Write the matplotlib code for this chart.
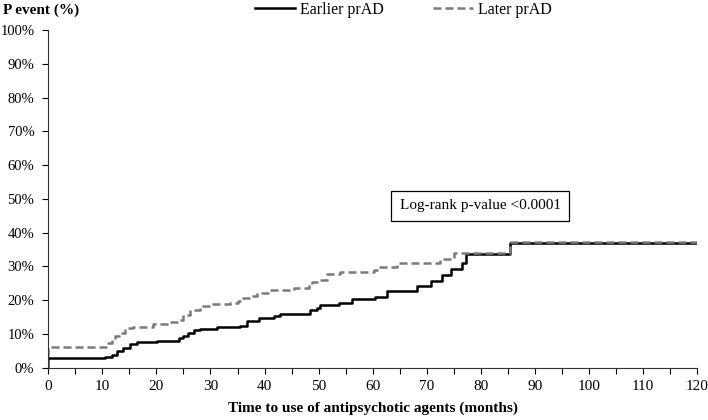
import matplotlib
matplotlib.use("Agg")
import matplotlib.pyplot as plt
from matplotlib.ticker import MultipleLocator, FuncFormatter

plt.rcParams['font.family'] = ['Liberation Serif', 'DejaVu Serif']

# Kaplan-Meier style cumulative event curves (months, % with event)
earlier_t = [0, 0, 10.5, 11.7, 12.7, 13.9, 15.1, 16.4, 20.1, 23.1, 24.1, 25.0, 25.9,
             26.9, 28.1, 31.2, 35.5, 36.7, 38.9, 41.7, 42.9, 48.5, 49.7, 50.3, 53.7,
             56.2, 60.5, 62.7, 68.2, 70.7, 72.9, 74.4, 76.6, 77.2, 85.4, 120]
earlier_v = [0, 2.8, 3.2, 3.8, 5.0, 5.7, 7.0, 7.7, 7.9, 8.0, 8.7, 9.5, 10.4,
             11.2, 11.5, 12.2, 12.4, 13.9, 14.6, 15.3, 15.8, 17.1, 17.6, 18.6, 19.1,
             20.3, 21.0, 22.8, 24.3, 25.8, 27.5, 29.2, 30.9, 33.7, 36.9, 36.9]

later_t = [0, 0, 10.8, 11.7, 12.4, 13.0, 14.2, 15.7, 19.4, 22.5, 24.1, 25.0, 26.2,
           28.1, 29.9, 33.6, 35.0, 36.1, 37.3, 38.6, 41.1, 45.4, 48.2, 48.8, 50.3,
           51.6, 54.0, 60.2, 61.4, 64.5, 72.5, 75.0, 85.4, 120]
later_v = [0, 6.2, 7.2, 8.5, 9.5, 10.2, 11.7, 12.2, 12.9, 13.4, 14.1, 15.5, 17.1,
           18.3, 18.9, 19.1, 19.8, 20.6, 21.3, 22.0, 23.0, 23.5, 24.2, 25.5, 26.0,
           27.8, 28.4, 29.0, 29.9, 30.9, 32.1, 33.9, 37.3, 37.3]

series_labels = ['Earlier prAD', 'Later prAD']
pvalue_text = 'Log-rank p-value <0.0001'

fig = plt.figure(figsize=(7.08, 4.2), dpi=100)
ax = fig.add_axes([0.0682, 0.1245, 0.9163, 0.8041])

l1, = ax.plot(earlier_t, earlier_v, drawstyle='steps-post', color='black', lw=1.8)
l2, = ax.plot(later_t, later_v, drawstyle='steps-post', color='#7a7a7a', lw=1.8,
              dashes=(3.2, 1.6))

ax.set_xlim(0, 120)
ax.set_ylim(0, 100)
ax.xaxis.set_major_locator(MultipleLocator(10))
ax.xaxis.set_minor_locator(MultipleLocator(5))
ax.yaxis.set_major_locator(MultipleLocator(10))
ax.yaxis.set_major_formatter(FuncFormatter(lambda v, p: '%d%%' % v))
ax.tick_params(axis='both', which='both', direction='out', length=4, width=0.8,
               labelsize=11, colors='black')
ax.tick_params(axis='x', pad=5)
ax.tick_params(axis='y', pad=6, labelsize=10.5)
ax.spines['top'].set_visible(False)
ax.spines['right'].set_visible(False)
for s in ('left', 'bottom'):
    ax.spines[s].set_color('#333333')

ax.set_xlabel('Time to use of antipsychotic agents (months)', fontsize=11,
              fontweight='bold', labelpad=6)
fig.text(0.004, 0.976, 'P event (%)', fontsize=11, fontweight='bold', va='center')

ax.text(79.9, 47.9, pvalue_text, fontsize=11, ha='center', va='center',
        bbox=dict(boxstyle='square,pad=0.55', fc='white', ec='black', lw=0.9))

fig.legend([l1, l2], series_labels, loc='center', bbox_to_anchor=(0.57, 0.976),
           ncol=2, frameon=False, fontsize=11.5, handlelength=2.5, handletextpad=0.3,
           columnspacing=3.1, borderpad=0)

fig.savefig('out.png', dpi=100)
